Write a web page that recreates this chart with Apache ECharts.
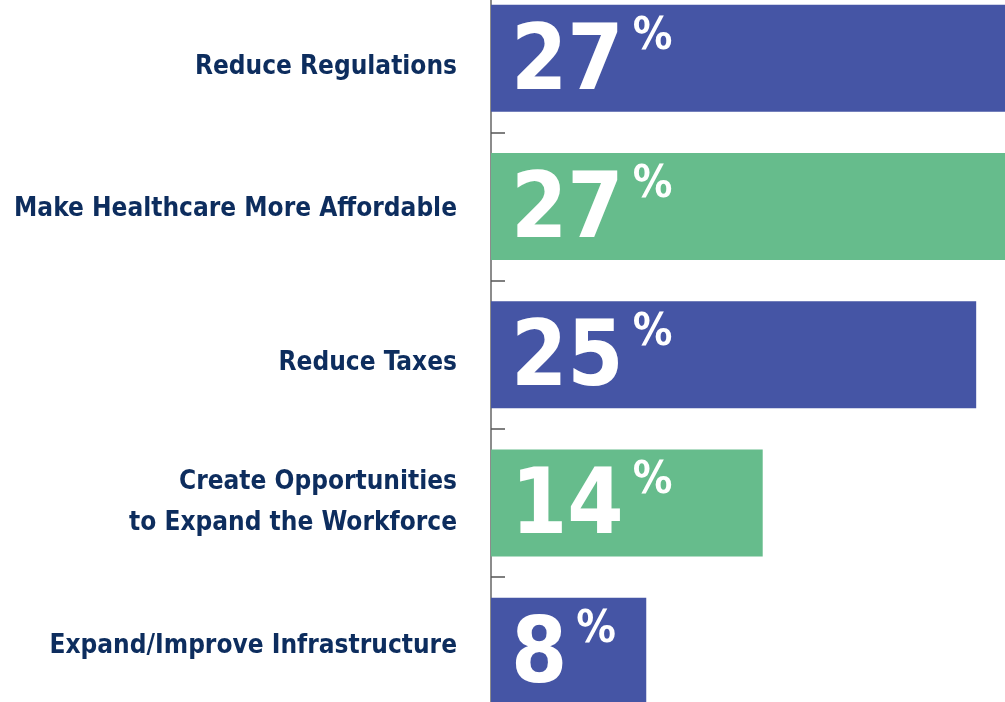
<!DOCTYPE html>
<html><head><meta charset="utf-8">
<script src="https://cdn.jsdelivr.net/npm/echarts@6/dist/echarts.min.js"></script>
<style>html,body{margin:0;padding:0;background:#fff}#c{width:1005px;height:702px}</style>
</head><body><div id="c"></div>
<script>
const categories = [
  'Reduce Regulations',
  'Make Healthcare More Affordable',
  'Reduce Taxes',
  'Create Opportunities\nto Expand the Workforce',
  'Expand/Improve Infrastructure'
];
const values = [27, 27, 25, 14, 8];
const barColors = ['#4555a5', '#66bc8c', '#4555a5', '#66bc8c', '#4555a5'];

const FONT = "'Liberation Sans Narrow', 'DejaVu Sans Condensed', sans-serif";
const labelStyle = {color: '#0d2d5e', fontFamily: FONT, fontWeight: 'bold', fontSize: 26, lineHeight: 41};
// small vertical nudges of the category labels, as in the original layout
const labelNudge = [9, 3, 8, 0, -5];
const rich = {};
labelNudge.forEach((d, i) => {
  rich['s' + i] = Object.assign({}, labelStyle, {padding: d >= 0 ? [2 * d, 0, 0, 0] : [0, 0, -2 * d, 0]});
});

const chart = echarts.init(document.getElementById('c'), null, {renderer: 'canvas'});
chart.setOption({
  animation: false,
  backgroundColor: '#ffffff',
  grid: {left: 491, top: -16, height: 741.5, width: 524, containLabel: false, outerBoundsMode: 'none'},
  xAxis: {type: 'value', min: 0, max: 27, show: false},
  yAxis: {
    type: 'category', data: categories, inverse: true,
    axisLine: {show: true, lineStyle: {color: '#666', width: 1.5}},
    axisTick: {show: true, inside: true, length: 14, lineStyle: {color: '#555', width: 1.5}},
    axisLabel: Object.assign({}, labelStyle, {
      margin: 34, align: 'right', rich: rich,
      formatter: (v, i) => labelNudge[i] ? v.split('\n').map(l => '{s' + i + '|' + l + '}').join('\n') : v
    })
  },
  series: [{
    type: 'bar',
    barWidth: 107,
    data: values.map((v, i) => ({value: v, itemStyle: {color: barColors[i]}})),
    label: {
      show: true, position: 'insideLeft', distance: 20, offset: [0, 7],
      formatter: p => '{n|' + p.value + '}{p|%}',
      rich: {
        n: {fontFamily: FONT, fontWeight: 'bold', fontSize: 90, lineHeight: 90, color: '#fff'},
        p: {fontFamily: FONT, fontWeight: 'bold', fontSize: 44, lineHeight: 30, color: '#fff', padding: [0, 0, 56, 9]}
      }
    }
  }]
});
</script></body></html>
